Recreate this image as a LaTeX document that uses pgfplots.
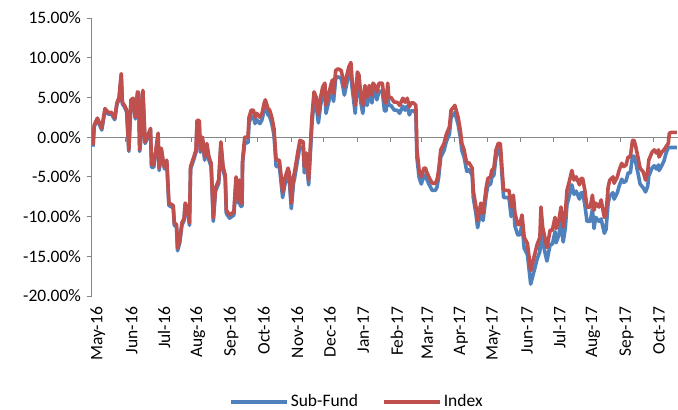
\documentclass[border=0pt]{standalone}
\usepackage{pgfplots}
\pgfplotsset{compat=1.18}
\usepackage{fontspec}
\setmainfont{Carlito}
\definecolor{sfblue}{RGB}{79,129,189}
\definecolor{ixred}{RGB}{192,80,77}
\definecolor{axgray}{RGB}{134,134,134}
\begin{document}
\fontsize{17.5}{21}\selectfont
\begin{tikzpicture}
\path[use as bounding box] (-92pt,-114pt) rectangle (586pt,296pt);
\begin{axis}[
  at={(0pt,0pt)}, anchor=south west,
  scale only axis, width=586pt, height=278pt,
  xmin=0, xmax=541, ymin=-20, ymax=15,
  axis y line*=left, axis x line*=bottom,
  x axis line style={draw=none},
  y axis line style={axgray, line width=1pt},
  ytick={-20,-15,...,15},
  yticklabel={\pgfmathprintnumber[fixed,fixed zerofill,precision=2]{\tick}\%},
  /pgf/number format/assume math mode=true,
  ytick style={axgray, line width=1pt},
  tick align=outside,
  major tick length=5pt,
  xtick={0,31,61,92,123,153,184,214,245,276,304,335,365,396,426,457,488,518},
  xticklabels={May-16,Jun-16,Jul-16,Aug-16,Sep-16,Oct-16,Nov-16,Dec-16,Jan-17,Feb-17,Mar-17,Apr-17,May-17,Jun-17,Jul-17,Aug-17,Sep-17,Oct-17},
  xtick style={draw=none},
  xticklabel style={xshift=6pt, rotate=90, anchor=east},
  legend columns=2,
  legend style={draw=none, fill=none, at={(0.452,-0.381)}, anchor=center,
    /tikz/every even column/.append style={column sep=22pt}},
  legend image code/.code={\draw[#1] (0pt,0pt) -- (56pt,0pt);},
]
\draw[axgray, line width=1.2pt] (axis cs:0,0) -- (axis cs:541,0);
\pgfplotsinvokeforeach{31,61,92,123,153,184,214,245,276,304,335,365,396,426,457,488,518}{
  \draw[axgray, line width=1pt] (axis cs:#1,0) -- ++(0pt,-5pt);
}
\addplot[sfblue, line width=3.6pt, line join=round] coordinates {
(1,-1.2)(2,1.3)(5,2.2)(9,0.9)(12,3.4)(15,2.9)(18,2.9)(21,2.2)(23,4.1)(25,4.8)(27,7.8)(28,4.2)(30,3.8)(32,3.2)(34,-1.8)(36,4.5)(38,4.7)(40,2.3)(42,5.5)(43,5.4)(44,-1.8)(46,1.1)(47,5.7)(49,-0.8)(51,-0.2)(54,0.9)(55,-3.8)(57,-3.8)(59,-1.8)(61,0.3)(62,-4.2)(64,-1.6)(66,-3.5)(67,-4.0)(69,-3.1)(71,-8.6)(75,-8.9)(76,-11.1)(78,-11.3)(79,-14.3)(81,-13.3)(83,-11.1)(85,-10.5)(86,-8.6)(88,-9.1)(90,-11.1)(91,-4.0)(94,-2.8)(96,-1.9)(97,1.8)(99,1.8)(100,-1.9)
(102,-0.4)(104,-2.9)(106,-1.2)(108,-2.9)(110,-3.7)(112,-10.6)(114,-6.8)(117,-5.8)(119,-1.0)(121,-4.1)(123,-5.2)(124,-9.6)(127,-10.2)(131,-9.8)(133,-5.4)(135,-8.3)(136,-5.8)(137,-8.7)(138.5,-8.7)(139,-3.3)
(141,-0.7)(144,-0.7)(145,1.8)(147,2.6)(149,2.6)(150.5,1.7)(152,2.2)(155,1.7)(157,2.2)(159,3.5)(160,3.9)(162.5,2.8)(164,2.6)(166,1.7)(168,0.3)(170,-3.7)(173,-3.7)(174.5,-5.6)(176,-7.6)(178,-6.0)(181,-4.6)(182,-5.1)(184,-9.0)(186,-5.8)(187,-5.2)(190,-2.7)(192,-1.2)(195,-1.4)(196,-4.5)(198,-2.8)(200,-6.0)
(203,1.5)(205,4.7)(207,4.0)(209,1.8)(211,4.0)(213,5.3)(215,5.8)(216,3.0)(219,4.7)(221,5.8)(222,6.2)(223,4.5)(225,7.4)(227,7.6)(230,7.4)(231,6.8)(233,5.3)(235,6.6)(237,7.8)(239,8.4)(240,6.4)(243,3.0)(245,7.2)(246.5,6.8)(248,4.5)(250,3.0)(252,5.5)(254,4.0)(256,5.5)(258.5,4.3)(259.5,5.8)(262,5.3)(263,4.7)(265,5.8)(268,5.8)(270,3.3)(271.5,3.3)(273,5.8)(274,4.0)(276,4.0)(279,3.4)(281,3.4)(282.5,3.3)(284,3.0)(287,3.9)(289,3.4)(291,3.9)(293,2.8)(294.5,3.3)(297,3.3)(299,3.0)(300,-2.6)
(302,-5.1)(304,-5.9)(306.5,-4.8)(308,-4.8)(309,-5.3)(311,-5.9)(314,-6.7)(317,-6.7)(318.5,-6.3)(320,-5.1)(322,-2.5)(325,-1.7)(327,-0.6)(330,0.4)(331.5,2.5)(334,2.9)(335,3.1)(338,1.6)(340,0.0)(341.5,-1.7)(343.5,-2.5)(346,-4.3)(348,-4.1)(351,-4.8)(352,-7.6)(354.5,-9.7)(356,-11.4)(359,-9.2)(361,-10.5)(364,-7.2)(365.5,-6.1)(368,-5.9)(369,-5.1)(371,-4.8)(373,-2.5)(375,-1.7)(377,-1.7)(378.5,-4.8)(380,-7.6)(383,-7.6)(385,-7.7)(387,-10.0)(389,-8.5)(390.5,-11.2)(393,-12.3)(395,-12.3)(397,-11.0)(399,-14.0)(402,-14.8)
(405,-18.5)(409,-16.4)(411,-15.3)(413.5,-14.4)(414.5,-10.6)(416,-13.1)(418,-14.4)(420,-15.6)(423,-13.5)(425,-13.5)(427.5,-11.9)(428.5,-13.3)(431,-12.3)(433,-10.6)(435,-13.2)(437,-11.4)(438.5,-8.5)(441,-7.2)(443,-6.0)(445,-7.2)(447,-6.8)(450,-7.8)(451.5,-7.0)(453,-7.0)(455,-8.5)(457,-10.6)(460,-10.6)(462,-9.1)(463.5,-11.5)(465,-10.1)(468,-10.6)(470,-10.3)
(473,-12.1)(474.6,-11.6)(476.5,-8.3)(478,-7.4)(481,-7.0)(482,-7.8)(485,-7.0)(486.6,-6.2)(489,-5.3)(491,-5.7)(493,-5.5)(495,-4.5)(497,-4.5)(499,-2.4)(500.5,-2.4)(502,-3.2)(504,-4.5)(506,-5.9)(509,-6.4)(511,-6.9)(513,-6.2)(514,-4.9)(517,-3.9)(519,-3.6)(521,-4.0)(523,-3.5)(523.5,-4.2)(526,-3.6)(528,-3.0)(530,-2.0)(532,-1.3)(533,-1.3)(535,-1.3)(537.5,-1.3)(540,-1.3)
};
\addlegendentry{Sub-Fund}
\addplot[ixred, line width=3.6pt, line join=round] coordinates {
(1,-1.0)(2,1.5)(5,2.4)(9,1.1)(12,3.6)(15,3.1)(18,3.1)(21,2.4)(23,4.3)(25,5.0)(27,8.0)(28,4.4)(30,4.0)(32,3.4)(34,-1.6)(36,4.7)(38,4.9)(40,2.5)(42,5.7)(43,5.6)(44,-1.6)(46,1.3)(47,5.9)(49,-0.6)(51,0.0)(54,1.1)(55,-3.5)(57,-3.5)(59,-1.6)(61,0.5)(62,-3.9)(64,-1.4)(66,-3.3)(67,-3.7)(69,-2.9)(71,-8.3)(75,-8.6)(76,-10.8)(78,-11.0)(79,-14.0)(81,-13.0)(83,-10.8)(85,-10.2)(86,-8.3)(88,-8.8)(90,-10.8)(91,-3.7)(94,-2.5)(96,-1.6)(97,2.1)(99,2.1)(100,-1.6)
(102,0.0)(104,-2.5)(106,-0.8)(108,-2.5)(110,-3.3)(112,-10.2)(114,-6.4)(117,-5.4)(119,-0.6)(121,-3.7)(123,-4.8)(124,-9.2)(127,-9.8)(131,-9.4)(133,-5.0)(135,-7.9)(136,-5.4)(137,-8.3)(138.5,-8.3)(139,-2.9)
(141,0.0)(144,0.0)(145,2.5)(147,3.4)(149,3.4)(150.5,2.5)(152,3.0)(155,2.5)(157,3.0)(159,4.3)(160,4.7)(162.5,3.6)(164,3.4)(166,2.5)(168,1.1)(170,-2.9)(173,-2.9)(174.5,-4.8)(176,-6.9)(178,-5.2)(181,-3.9)(182,-4.4)(184,-8.3)(186,-5.0)(187,-4.4)(190,-1.9)(192,-0.4)(195,-0.6)(196,-3.7)(198,-2.0)(200,-5.4)
(203,2.5)(205,5.7)(207,5.0)(209,2.8)(211,5.0)(213,6.3)(215,6.8)(216,4.0)(219,5.7)(221,6.8)(222,7.2)(223,5.5)(225,8.4)(227,8.6)(230,8.4)(231,7.8)(233,6.3)(235,7.6)(237,8.8)(239,9.4)(240,7.4)(243,4.0)(245,8.2)(246.5,7.8)(248,5.5)(250,4.0)(252,6.5)(254,5.0)(256,6.5)(258.5,5.3)(259.5,6.8)(262,6.3)(263,5.7)(265,6.8)(268,6.8)(270,4.5)(271.5,4.3)(273,6.8)(274,5.0)(276,5.0)(279,4.4)(281,4.4)(282.5,4.3)(284,4.0)(287,4.9)(289,4.4)(291,4.9)(293,3.8)(294.5,4.3)(297,4.3)(299,4.0)(300,-1.6)
(302,-4.2)(304,-5.0)(306.5,-3.9)(308,-3.9)(309,-4.4)(311,-5.0)(314,-5.8)(317,-5.8)(318.5,-5.4)(320,-4.2)(322,-1.6)(325,-0.8)(327,0.3)(330,1.3)(331.5,3.4)(334,3.8)(335,4.0)(338,2.5)(340,0.9)(341.5,-0.8)(343.5,-1.6)(346,-3.3)(348,-3.2)(351,-3.9)(352,-6.7)(354.5,-8.8)(356,-10.5)(359,-8.3)(361,-9.6)(364,-6.3)(365.5,-5.2)(368,-5.0)(369,-4.2)(371,-3.9)(373,-1.6)(375,-0.8)(377,-0.8)(378.5,-3.9)(380,-6.7)(383,-6.7)(385,-6.7)(387,-8.8)(389,-7.3)(390.5,-9.6)(393,-11.0)(395,-11.0)(397,-9.8)(399,-12.6)(402,-13.4)
(405,-16.8)(409,-14.6)(411,-13.5)(413.5,-12.6)(414.5,-8.8)(416,-11.3)(418,-12.6)(420,-13.9)(423,-11.7)(425,-11.7)(427.5,-10.1)(428.5,-11.5)(431,-10.5)(433,-8.8)(435,-11.3)(437,-9.6)(438.5,-6.7)(441,-5.4)(443,-4.2)(445,-5.4)(447,-5.0)(450,-6.0)(451.5,-5.2)(453,-5.2)(455,-6.7)(457,-8.8)(460,-8.8)(462,-7.3)(463.5,-9.2)(465,-8.3)(468,-8.8)(470,-7.9)
(473,-10.1)(474.6,-9.6)(476.5,-6.3)(478,-5.4)(481,-5.0)(482,-5.8)(485,-5.0)(486.6,-4.2)(489,-3.3)(491,-3.7)(493,-3.5)(495,-2.5)(497,-2.5)(499,-0.4)(500.5,-0.4)(502,-1.2)(504,-2.5)(506,-3.9)(509,-4.4)(511,-5.4)(513,-4.4)(514,-2.9)(517,-1.9)(519,-1.6)(521,-2.0)(523,-1.6)(523.5,-2.5)(526,-1.9)(528,-1.6)(530,-1.2)(532,-0.8)(533,0.5)(535,0.6)(537.5,0.6)(540,0.6)
};
\addlegendentry{Index}
\end{axis}
\end{tikzpicture}
\end{document}
